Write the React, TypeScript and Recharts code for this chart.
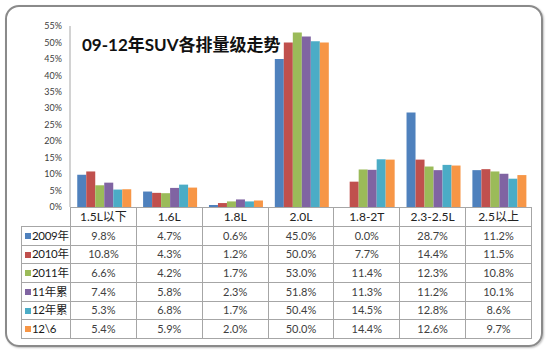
import React from 'react';
import { BarChart, Bar, XAxis, YAxis } from 'recharts';

const categories = ['1.5L以下', '1.6L', '1.8L', '2.0L', '1.8-2T', '2.3-2.5L', '2.5以上'];
const seriesNames = ['2009年', '2010年', '2011年', '11年累', '12年累', '12\\6'];
const colors = ['#4F81BD', '#C0504D', '#9BBB59', '#8064A2', '#4BACC6', '#F79646'];

const v2009 = [9.8, 4.7, 0.6, 45.0, 0.0, 28.7, 11.2];
const v2010 = [10.8, 4.3, 1.2, 50.0, 7.7, 14.4, 11.5];
const v2011 = [6.6, 4.2, 1.7, 53.0, 11.4, 12.3, 10.8];
const v11cum = [7.4, 5.8, 2.3, 51.8, 11.3, 11.2, 10.1];
const v12cum = [5.3, 6.8, 1.7, 50.4, 14.5, 12.8, 8.6];
const v12m6 = [5.4, 5.9, 2.0, 50.0, 14.4, 12.6, 9.7];

const seriesValues = [v2009, v2010, v2011, v11cum, v12cum, v12m6];
const yTicks = [0, 5, 10, 15, 20, 25, 30, 35, 40, 45, 50, 55];

const data = categories.map((name, i) => {
  const row: { [k: string]: any } = { name };
  seriesValues.forEach((vals, s) => {
    row['s' + s] = vals[i];
  });
  return row;
});

const FONT = 'Lato, "Noto Sans CJK SC", sans-serif';
const BORDER = '1px solid #a6a6a6';

export default function App() {
  const plotLeft = 70;
  const plotRight = 531;
  const colW = (plotRight - plotLeft) / categories.length;

  const cell: React.CSSProperties = {
    border: BORDER,
    padding: 0,
    textAlign: 'center',
    fontSize: 11,
    lineHeight: '14px',
    color: '#404040',
    whiteSpace: 'nowrap',
    overflow: 'hidden',
  };

  return (
    <div style={{ position: 'absolute', left: 0, top: 0, width: 550, height: 355, background: '#fff', fontFamily: FONT }}>
      {/* outer frame */}
      <div
        style={{
          position: 'absolute',
          left: 5,
          top: 5,
          width: 538,
          height: 342,
          boxSizing: 'border-box',
          border: '2px solid #8a8a8a',
          borderRadius: 14,
          boxShadow: '1px 1px 2px rgba(0,0,0,0.25)',
        }}
      />

      <div style={{ position: 'absolute', left: 0, top: 0 }}>
        <BarChart
          width={550}
          height={355}
          data={data}
          margin={{ top: 26, right: 550 - plotRight, bottom: 148, left: 0 }}
          barCategoryGap="11%"
          barGap={0}
        >
          <XAxis dataKey="name" hide />
          <YAxis
            width={plotLeft}
            domain={[0, 55]}
            ticks={yTicks}
            tickFormatter={(v: number) => `${v}%`}
            tickLine={false}
            axisLine={{ stroke: '#a6a6a6' }}
            tick={{ fontSize: 9, fill: '#404040', fontFamily: FONT }}
            interval={0}
          />
          {seriesNames.map((n, s) => (
            <Bar key={n} dataKey={'s' + s} name={n} fill={colors[s]} isAnimationActive={false} />
          ))}
        </BarChart>
      </div>

      {/* title */}
      <div
        style={{
          position: 'absolute',
          left: 82,
          top: 34,
          fontSize: 17,
          fontWeight: 'bold',
          color: '#111',
          fontFamily: FONT,
          lineHeight: '22px',
        }}
      >
        09-12年SUV各排量级走势
      </div>

      {/* data table */}
      <table
        style={{
          position: 'absolute',
          left: 21,
          top: 207,
          borderCollapse: 'collapse',
          tableLayout: 'fixed',
          width: plotRight - 21 + 1,
          fontFamily: FONT,
        }}
      >
        <colgroup>
          <col style={{ width: plotLeft - 21 }} />
          {categories.map((c) => (
            <col key={c} style={{ width: colW }} />
          ))}
        </colgroup>
        <tbody>
          <tr style={{ height: 19 }}>
            <td style={{ ...cell, borderTop: 'hidden', borderLeft: 'hidden' }} />
            {categories.map((c) => (
              <td key={c} style={{ ...cell, fontSize: 12, color: '#222' }}>
                {c}
              </td>
            ))}
          </tr>
          {seriesNames.map((n, s) => (
            <tr key={n} style={{ height: 18.67 }}>
              <td style={{ ...cell, textAlign: 'left', fontSize: 11.5, color: '#1a1a1a', letterSpacing: -0.3 }}>
                <span
                  style={{
                    display: 'inline-block',
                    width: 6,
                    height: 6,
                    background: colors[s],
                    marginLeft: 3,
                    marginRight: 1,
                    verticalAlign: 'middle',
                    position: 'relative',
                    top: -1,
                  }}
                />
                {n}
              </td>
              {seriesValues[s].map((v, i) => (
                <td key={i} style={cell}>
                  {v.toFixed(1)}%
                </td>
              ))}
            </tr>
          ))}
        </tbody>
      </table>
    </div>
  );
}
